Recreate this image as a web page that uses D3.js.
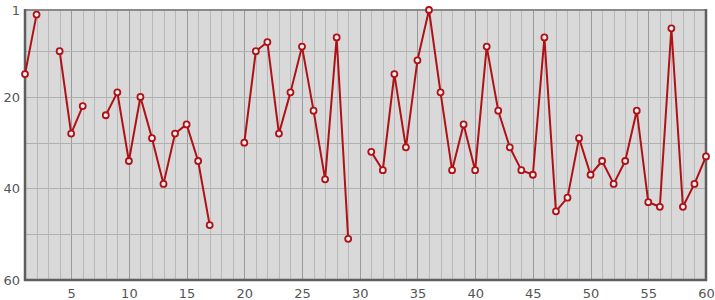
<!DOCTYPE html>
<html>
<head>
<meta charset="utf-8">
<script src="https://cdn.jsdelivr.net/npm/d3@7"></script>
<style>
  body { margin: 0; background: #fff; }
  svg { display: block; }
</style>
</head>
<body>
<div id="chart"></div>
<script>
// x positions 1..60, null = gap in the line
const xValues = d3.range(1, 61);
const rankValues = [
  15, 2, null, 10, 28, 22, null, 24, 19, 34,
  20, 29, 39, 28, 26, 34, 48, null, null, 30,
  10, 8, 28, 19, 9, 23, 38, 7, 51, null,
  32, 36, 15, 31, 12, 1, 19, 36, 26, 36,
  9, 23, 31, 36, 37, 7, 45, 42, 29, 37,
  34, 39, 34, 23, 43, 44, 5, 44, 39, 33
];
const xTickLabels = [5, 10, 15, 20, 25, 30, 35, 40, 45, 50, 55, 60];
const yTickLabels = [1, 20, 40, 60];

const width = 715, height = 300;
const margin = {top: 10, right: 9, bottom: 20, left: 25};

const data = xValues.map((x, i) => ({x: x, y: rankValues[i]}));

const svg = d3.select('#chart')
  .append('svg')
  .attr('width', width)
  .attr('height', height);

const xScale = d3.scaleLinear()
  .domain([1, 60])
  .range([margin.left, width - margin.right]);

// inverted: rank 1 at the top
const yScale = d3.scaleLinear()
  .domain([1, 60])
  .range([margin.top, height - margin.bottom]);

// plot background
svg.append('rect')
  .attr('x', xScale(1))
  .attr('y', yScale(1))
  .attr('width', xScale(60) - xScale(1))
  .attr('height', yScale(60) - yScale(1))
  .attr('fill', '#d9d9d9');

// vertical grid, every unit, darker every 5
svg.append('g')
  .selectAll('line')
  .data(d3.range(2, 60))
  .enter().append('line')
  .attr('x1', d => Math.round(xScale(d)) + 0.5)
  .attr('x2', d => Math.round(xScale(d)) + 0.5)
  .attr('y1', yScale(1))
  .attr('y2', yScale(60))
  .attr('stroke', d => d % 5 === 0 ? '#9a9a9a' : '#b8b8b8')
  .attr('stroke-width', 1);

// horizontal grid every 10
svg.append('g')
  .selectAll('line')
  .data([10, 20, 30, 40, 50])
  .enter().append('line')
  .attr('x1', xScale(1))
  .attr('x2', xScale(60))
  .attr('y1', d => Math.round(yScale(d)) + 0.5)
  .attr('y2', d => Math.round(yScale(d)) + 0.5)
  .attr('stroke', '#b0b0b0')
  .attr('stroke-width', 1.2);

// frame
svg.append('rect')
  .attr('x', xScale(1))
  .attr('y', yScale(1))
  .attr('width', xScale(60) - xScale(1))
  .attr('height', yScale(60) - yScale(1))
  .attr('fill', 'none')
  .attr('stroke', '#8a8a8a')
  .attr('stroke-width', 2);

svg.append('path')
  .attr('d', `M${xScale(1)},${yScale(1) - 1}V${yScale(60)}H${xScale(60)}V${yScale(1) - 1}`)
  .attr('fill', 'none')
  .attr('stroke', '#5e5e5e')
  .attr('stroke-width', 2.5);

// axes
const xAxis = svg.append('g')
  .attr('transform', `translate(0,${yScale(60)})`)
  .call(d3.axisBottom(xScale).tickValues(xTickLabels).tickSize(0).tickPadding(9));

const yAxis = svg.append('g')
  .attr('transform', `translate(${xScale(1)},0)`)
  .call(d3.axisLeft(yScale).tickValues(yTickLabels).tickSize(0).tickPadding(5));

[xAxis, yAxis].forEach(ax => {
  ax.select('.domain').remove();
  ax.selectAll('text')
    .attr('fill', '#555')
    .attr('font-family', 'DejaVu Sans, sans-serif')
    .attr('font-size', 13);
});

// line with gaps
const line = d3.line()
  .defined(d => d.y !== null)
  .x(d => xScale(d.x))
  .y(d => yScale(d.y));

svg.append('path')
  .datum(data)
  .attr('d', line)
  .attr('fill', 'none')
  .attr('stroke', '#b01116')
  .attr('stroke-width', 2)
  .attr('stroke-linejoin', 'round');

// markers
svg.append('g')
  .selectAll('circle')
  .data(data.filter(d => d.y !== null))
  .enter().append('circle')
  .attr('cx', d => xScale(d.x))
  .attr('cy', d => yScale(d.y))
  .attr('r', 3)
  .attr('fill', '#f0f0f0')
  .attr('stroke', '#b01116')
  .attr('stroke-width', 1.8);
</script>
</body>
</html>
